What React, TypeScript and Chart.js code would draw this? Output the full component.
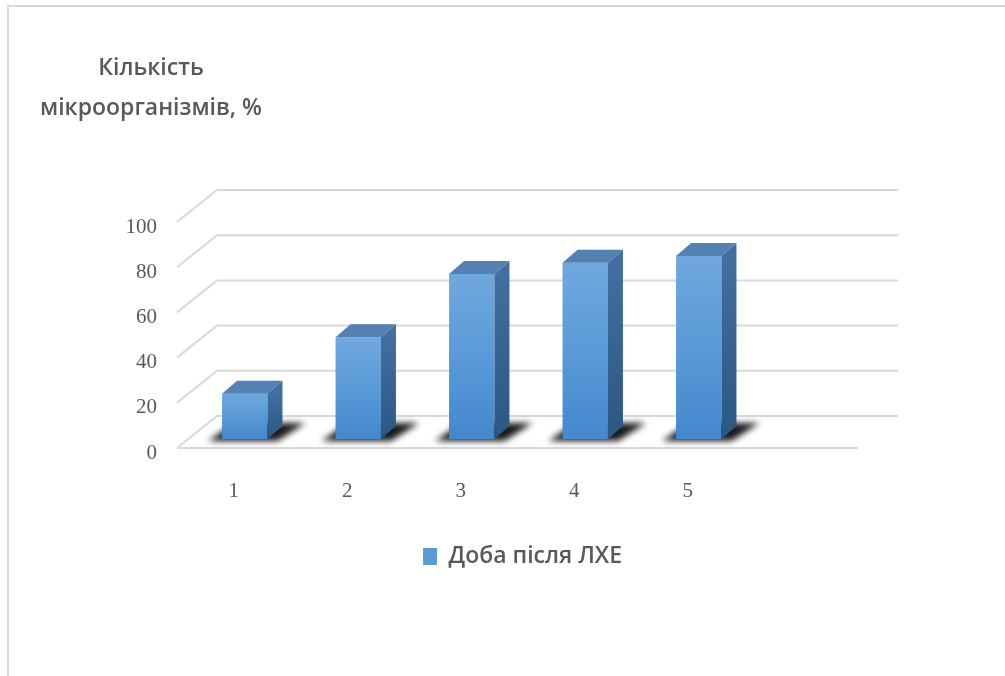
import React, { useEffect, useRef } from 'react';
import { Chart, registerables } from 'chart.js';

Chart.register(...registerables);

// ---- data ----
const categories = ['1', '2', '3', '4', '5', ''];
const values: (number | null)[] = [20, 45, 73, 78, 81, null];
const seriesName = 'Доба після ЛХЕ';
const yTickValues = [0, 20, 40, 60, 80, 100];
const titleLines = ['Кількість', 'мікроорганізмів, %'];

// ---- 3D look (offsets relative to the bar plane) ----
const FRONT_X = -11;
const FRONT_Y = 9;
const DEPTH_X = 40;
const DEPTH_Y = 32;
const BAR_DX = 15;
const BAR_DY = 13;
const LEGEND_SHIFT = -6;

const TEXT = '#595959';
const GRID = '#d9d9d9';

function barGeom(chart: any) {
  const meta = chart.getDatasetMeta(0);
  const out: { l: number; r: number; top: number; base: number }[] = [];
  meta.data.forEach((el: any, i: number) => {
    if (values[i] == null) return;
    const p = el.getProps(['x', 'y', 'base', 'width'], true);
    out.push({ l: p.x - p.width / 2, r: p.x + p.width / 2, top: p.y, base: p.base });
  });
  return out;
}

const plot3d = {
  id: 'plot3d',
  afterLayout(chart: any) {
    const lg = chart.legend;
    if (lg) {
      lg.left += LEGEND_SHIFT;
      lg.right += LEGEND_SHIFT;
    }
  },
  beforeDraw(chart: any) {
    const { ctx, width, height } = chart;
    ctx.save();
    ctx.fillStyle = '#ffffff';
    ctx.fillRect(0, 0, width, height);
    ctx.strokeStyle = GRID;
    ctx.lineWidth = 2;
    ctx.beginPath();
    ctx.moveTo(8, height);
    ctx.lineTo(8, 6);
    ctx.lineTo(width, 6);
    ctx.stroke();
    ctx.fillStyle = TEXT;
    ctx.font = '600 23px "Open Sans"';
    ctx.textAlign = 'center';
    ctx.textBaseline = 'alphabetic';
    ctx.fillText(titleLines[0], 151, 75);
    ctx.fillText(titleLines[1], 151, 115);
    ctx.restore();
  },
  beforeDatasetsDraw(chart: any) {
    const { ctx, chartArea: a, scales } = chart;
    const y = scales.y;
    ctx.save();
    ctx.strokeStyle = GRID;
    ctx.lineWidth = 2;
    for (const v of yTickValues) {
      const py = y.getPixelForValue(v);
      ctx.beginPath();
      ctx.moveTo(a.left + FRONT_X, py + FRONT_Y);
      ctx.lineTo(a.left + FRONT_X + DEPTH_X, py + FRONT_Y - DEPTH_Y);
      ctx.lineTo(a.right + FRONT_X + DEPTH_X, py + FRONT_Y - DEPTH_Y);
      ctx.stroke();
    }
    const p0 = y.getPixelForValue(0);
    ctx.beginPath();
    ctx.moveTo(a.left + FRONT_X, p0 + FRONT_Y);
    ctx.lineTo(a.right + FRONT_X, p0 + FRONT_Y);
    ctx.stroke();

    // floor shadows
    ctx.filter = 'blur(3px)';
    ctx.fillStyle = 'rgba(0,0,0,0.9)';
    for (const b of barGeom(chart)) {
      ctx.beginPath();
      ctx.moveTo(b.l - 14, b.base + 2);
      ctx.lineTo(b.r + 10, b.base + 2);
      ctx.lineTo(b.r + 38, b.base - 16);
      ctx.lineTo(b.l + 12, b.base - 16);
      ctx.closePath();
      ctx.fill();
    }
    ctx.restore();
  },
  afterDatasetsDraw(chart: any) {
    const { ctx } = chart;
    ctx.save();
    for (const b of barGeom(chart)) {
      // side face
      const sg = ctx.createLinearGradient(0, b.top, 0, b.base);
      sg.addColorStop(0, '#426f9f');
      sg.addColorStop(1, '#2b5783');
      ctx.fillStyle = sg;
      ctx.beginPath();
      ctx.moveTo(b.r, b.top);
      ctx.lineTo(b.r + BAR_DX, b.top - BAR_DY);
      ctx.lineTo(b.r + BAR_DX, b.base - BAR_DY);
      ctx.lineTo(b.r, b.base);
      ctx.closePath();
      ctx.fill();
      // top face
      ctx.fillStyle = '#5381b1';
      ctx.beginPath();
      ctx.moveTo(b.l, b.top);
      ctx.lineTo(b.l + BAR_DX, b.top - BAR_DY);
      ctx.lineTo(b.r + BAR_DX, b.top - BAR_DY);
      ctx.lineTo(b.r, b.top);
      ctx.closePath();
      ctx.fill();
    }
    ctx.restore();
  },
};

export default function App() {
  const ref = useRef<HTMLCanvasElement | null>(null);
  useEffect(() => {
    if (!ref.current) return;
    const chart = new Chart(ref.current, {
      type: 'bar',
      data: {
        labels: categories,
        datasets: [
          {
            label: seriesName,
            data: values,
            barPercentage: 1,
            categoryPercentage: 0.4,
            backgroundColor: (ctx: any) => {
              const c = ctx.chart;
              if (!c.chartArea || ctx.raw == null) return '#5b9bd5';
              const ys = c.scales.y;
              const top = ys.getPixelForValue(ctx.raw);
              const base = ys.getPixelForValue(0);
              const g = c.ctx.createLinearGradient(0, top, 0, base);
              g.addColorStop(0, '#70a8de');
              g.addColorStop(0.5, '#5a9ad8');
              g.addColorStop(1, '#4487cd');
              return g;
            },
            borderWidth: 0,
          },
        ],
      },
      options: {
        animation: false,
        responsive: false,
        devicePixelRatio: 1,
        layout: { padding: { top: 213, left: 120, right: 136, bottom: 98 } },
        plugins: {
          tooltip: { enabled: false },
          legend: {
            position: 'bottom',
            fullSize: false,
            labels: {
              boxWidth: 14,
              boxHeight: 17,
              padding: 10,
              color: TEXT,
              font: { family: '"Open Sans"', size: 23, weight: '600' },
              generateLabels: (c: any) =>
                Chart.defaults.plugins.legend.labels.generateLabels(c).map((l: any) => ({
                  ...l,
                  fillStyle: '#5b9bd5',
                  strokeStyle: '#5b9bd5',
                  lineWidth: 0,
                })),
            },
          },
        },
        scales: {
          x: {
            grid: { display: false, drawTicks: false },
            border: { display: false },
            ticks: {
              labelOffset: -11,
              padding: 40,
              color: TEXT,
              font: { family: '"Liberation Serif"', size: 21 },
            },
            afterFit: (s: any) => {
              s.height = 96;
            },
          },
          y: {
            min: 0,
            max: 100,
            grid: { display: false, drawTicks: false },
            border: { display: false },
            ticks: {
              stepSize: 20,
              padding: 31,
              labelOffset: 14,
              color: TEXT,
              font: { family: '"Liberation Serif"', size: 21 },
            },
            afterFit: (s: any) => {
              s.width = 68;
            },
          },
        },
      },
      plugins: [plot3d],
    } as any);
    return () => chart.destroy();
  }, []);
  return (
    <div style={{ position: 'absolute', left: 0, top: 0, width: 1005, height: 676, background: '#fff' }}>
      <canvas ref={ref} width={1005} height={676} style={{ display: 'block' }} />
    </div>
  );
}
